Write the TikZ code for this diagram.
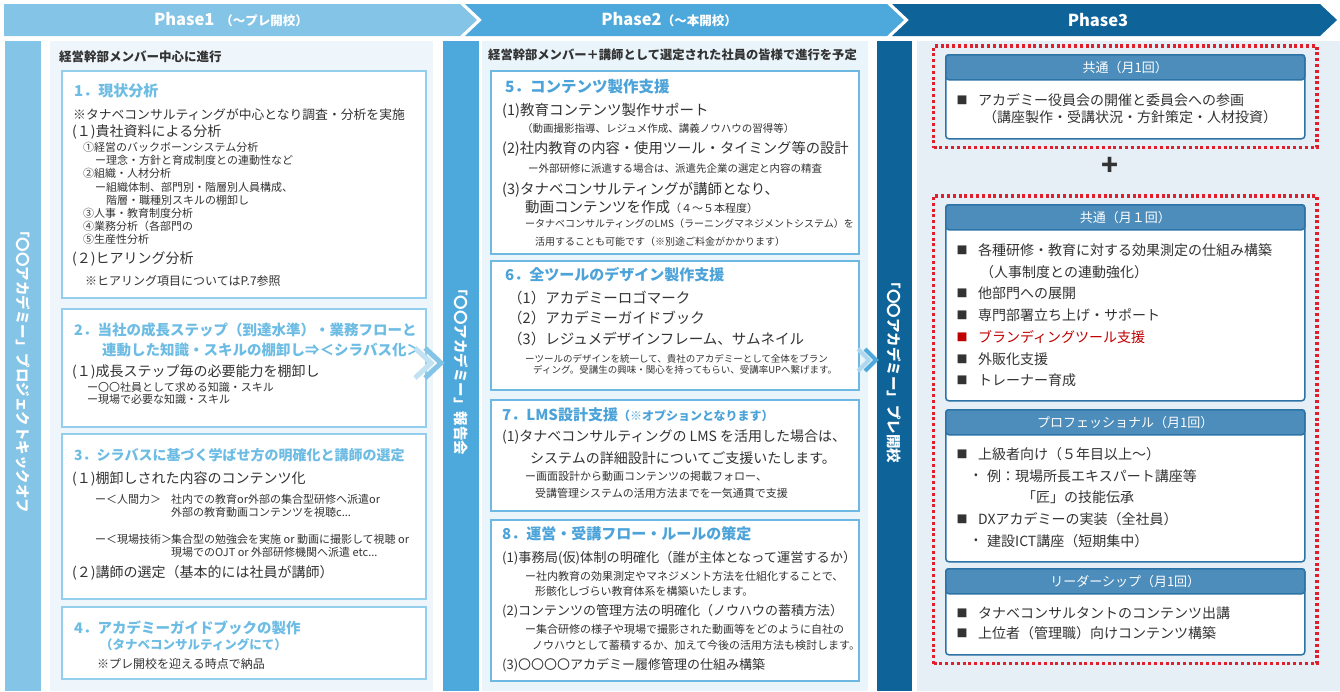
\documentclass[tikz,border=0pt]{standalone}
\usepackage{fontspec}
\setmainfont{Noto Sans CJK JP}
\usepackage{xcolor}
\usetikzlibrary{positioning,fit}
\definecolor{phaseA}{HTML}{84C4E6}
\definecolor{phaseB}{HTML}{4DA8DB}
\definecolor{phaseC}{HTML}{0E6399}
\definecolor{panelA}{HTML}{EEF6FB}
\definecolor{panelB}{HTML}{EAF4FB}
\definecolor{panelC}{HTML}{E6EEF6}
\definecolor{lineA}{HTML}{93CFEC}
\definecolor{lineB}{HTML}{6DB9E4}
\definecolor{titleA}{HTML}{6CBCE4}
\definecolor{titleB}{HTML}{4BA3D9}
\definecolor{inkgray}{HTML}{333333}
\definecolor{cardhead}{HTML}{4D8DBB}
\definecolor{cardline}{HTML}{2C73A6}
\definecolor{dotred}{HTML}{E01F2D}
\definecolor{brandred}{HTML}{C00000}

\begin{document}
\begin{tikzpicture}[
  x=1pt, y=-1pt,
  fs/.style={font=\fontsize{#1}{#1}\selectfont},
  fb/.style={font=\bfseries\fontsize{#1}{#1}\selectfont},
  tx/.style={anchor=west, inner sep=0pt, text=inkgray},
  bar/.style={anchor=north west, inner sep=0pt, minimum width=36, minimum height=650},
  panel/.style={anchor=north west, inner sep=0pt, minimum height=650},
  bartext/.style={rotate=-90, text=white, fb=14.5},
  boxA/.style={draw=lineA, line width=1.6pt, fill=white, anchor=north west, inner sep=0pt, minimum width=364},
  boxB/.style={draw=lineB, line width=1.6pt, fill=white, anchor=north west, inner sep=0pt, minimum width=368},
  ttlA/.style={tx, text=titleA, fb=15},
  ttlB/.style={tx, text=titleB, fb=15},
  card/.style={draw=cardline, line width=1.5pt, fill=white, rounded corners=3pt, anchor=north west, inner sep=0pt, minimum width=359},
  cardhd/.style={draw=cardline, line width=1.5pt, fill=cardhead, rounded corners=3pt, anchor=north west, inner sep=0pt, minimum width=359, minimum height=25, text=white, fs=13},
  reddots/.style={draw=dotred, line width=3.4pt, dash pattern=on 3pt off 2.8pt, inner xsep=11.5pt, inner ysep=8pt},
  sq/.style={anchor=center, inner sep=0pt, text=inkgray, fs=11},
  dot/.style={anchor=center, inner sep=0pt, text=inkgray, fs=11},
  chev/.style={line width=5pt, miter limit=10},
]
\useasboundingbox (0,0) rectangle (1340,691);

% phase headers
\fill[phaseA] (4,4) -- (460,4) -- (477,20) -- (460,36) -- (4,36) -- cycle;
\fill[phaseB] (465,4) -- (887,4) -- (904,20) -- (887,36) -- (465,36) -- (482,20) -- cycle;
\fill[phaseC] (892,4) -- (1320,4) -- (1337,20) -- (1320,36) -- (892,36) -- (909,20) -- cycle;
\node[text=white, fb=16.5] (ph1) at (231,20) {Phase1\hspace{6pt}{\fontsize{12.5}{12.5}\selectfont（～プレ開校）}};
\node[text=white, fb=16.5] (ph2) at (669,20) {Phase2{\fontsize{12.5}{12.5}\selectfont（～本開校）}};
\node[text=white, fb=16.5] (ph3) at (1098,20) {Phase3};

% columns
\node[bar, fill=phaseA] (barA) at (5,41) {};
\node[panel, fill=panelA, minimum width=383] (panA) at (50,41) {};
\node[bar, fill=phaseB] (barB) at (443,41) {};
\node[panel, fill=panelB, minimum width=386] (panB) at (482,41) {};
\node[bar, fill=phaseC, minimum width=35] (barC) at (877,41) {};
\node[panel, fill=panelC, minimum width=423] (panC) at (917,41) {};
\node[bartext] (barAt) at (23,368) {「〇〇アカデミー」プロジェクトキックオフ};
\node[bartext] (barBt) at (461,368) {「〇〇アカデミー」報告会};
\node[bartext] (barCt) at (894.5,369) {「〇〇アカデミー」プレ開校};

% Phase1
\node[tx, fb=12.5] (leadA) at (59,57) {経営幹部メンバー中心に進行};
\node[boxA, minimum height=227] (bx1) at (61,70) {};
\node[ttlA] (t1) at (74,91) {1．現状分析};
\node[tx, fs=12.8] (a1) at (73,115) {※タナベコンサルティングが中心となり調査・分析を実施};
\node[tx, fs=14] (a2) at (72,132) {(１)貴社資料による分析};
\node[tx, fs=11] (a3) at (83,147) {①経営のバックボーンシステム分析};
\node[tx, fs=11] (a4) at (95,160) {ー理念・方針と育成制度との連動性など};
\node[tx, fs=11] (a5) at (83,173) {②組織・人材分析};
\node[tx, fs=11] (a6) at (95,187) {ー組織体制、部門別・階層別人員構成、};
\node[tx, fs=11] (a7) at (106,200) {階層・職種別スキルの棚卸し};
\node[tx, fs=11] (a8) at (83,213) {③人事・教育制度分析};
\node[tx, fs=11] (a9) at (83,226) {④業務分析（各部門の};
\node[tx, fs=11] (a10) at (83,239) {⑤生産性分析};
\node[tx, fs=14] (a11) at (72,259) {(２)ヒアリング分析};
\node[tx, fs=12] (a12) at (85,281) {※ヒアリング項目についてはP.7参照};

\node[boxA, minimum height=118] (bx2) at (61,308) {};
\node[ttlA, fb=14.5] (t2) at (74,330) {2．当社の成長ステップ（到達水準）・業務フローと};
\node[ttlA, fb=14.5] (t2b) at (102,350) {連動した知識・スキルの棚卸し⇒＜シラバス化＞};
\node[tx, fs=14] (b1) at (72,372) {(１)成長ステップ毎の必要能力を棚卸し};
\node[tx, fs=11] (b2) at (87,387) {ー〇〇社員として求める知識・スキル};
\node[tx, fs=11] (b3) at (87,399) {ー現場で必要な知識・スキル};

\node[boxA, minimum height=165] (bx3) at (61,433) {};
\node[ttlA, fb=14] (t3) at (74,455) {3．シラバスに基づく学ばせ方の明確化と講師の選定};
\node[tx, fs=14] (c1) at (72,479) {(１)棚卸しされた内容のコンテンツ化};
\node[tx, fs=11] (c2) at (95,499) {ー＜人間力＞};
\node[tx, fs=11] (c3) at (171,499) {社内での教育or外部の集合型研修へ派遣or};
\node[tx, fs=11] (c4) at (171,512) {外部の教育動画コンテンツを視聴c...};
\node[tx, fs=11] (c5) at (95,539) {ー＜現場技術＞};
\node[tx, fs=11] (c6) at (171,539) {集合型の勉強会を実施 or 動画に撮影して視聴 or};
\node[tx, fs=11] (c7) at (171,552) {現場でのOJT or 外部研修機関へ派遣 etc...};
\node[tx, fs=14] (c8) at (72,573) {(２)講師の選定（基本的には社員が講師）};

\node[boxA, minimum height=72] (bx4) at (61,606) {};
\node[ttlA, fb=14.5] (t4) at (74,628) {4．アカデミーガイドブックの製作};
\node[ttlA, fb=12.5] (t4b) at (100,645) {（タナベコンサルティングにて）};
\node[tx, fs=12] (d1) at (97,664) {※プレ開校を迎える時点で納品};

% Phase2
\node[tx, fb=12.3] (leadB) at (488,55) {経営幹部メンバー＋講師として選定された社員の皆様で進行を予定};
\node[boxB, minimum height=183] (bx5) at (490,70) {};
\node[ttlB, fb=15.5] (t5) at (505,87) {5．コンテンツ製作支援};
\node[tx, fs=14.5] (e1) at (502,111) {(1)教育コンテンツ製作サポート};
\node[tx, fs=10.5] (e2) at (522,129) {（動画撮影指導、レジュメ作成、講義ノウハウの習得等）};
\node[tx, fs=14.3] (e3) at (502,149) {(2)社内教育の内容・使用ツール・タイミング等の設計};
\node[tx, fs=10.5] (e4) at (528,169) {ー外部研修に派遣する場合は、派遣先企業の選定と内容の精査};
\node[tx, fs=14.5] (e5) at (502,190) {(3)タナベコンサルティングが講師となり、};
\node[tx, fs=14.5] (e6) at (525,207) {動画コンテンツを作成{\fontsize{11}{11}\selectfont（４～５本程度）}};
\node[tx, fs=10] (e7) at (525,224) {ータナベコンサルティングのLMS（ラーニングマネジメントシステム）を};
\node[tx, fs=10] (e8) at (535,242) {活用することも可能です（※別途ご料金がかかります）};

\node[boxB, minimum height=129] (bx6) at (490,260) {};
\node[ttlB] (t6) at (505,275) {6．全ツールのデザイン製作支援};
\node[tx, fs=14.5] (f1) at (508,298) {（1）アカデミーロゴマーク};
\node[tx, fs=14.5] (f2) at (508,318) {（2）アカデミーガイドブック};
\node[tx, fs=14.5] (f3) at (508,339) {（3）レジュメデザインフレーム、サムネイル};
\node[tx, fs=9.5] (f4) at (525,359) {ーツールのデザインを統一して、貴社のアカデミーとして全体をブラン};
\node[tx, fs=9.5] (f5) at (533,370) {ディング。受講生の興味・関心を持ってもらい、受講率UPへ繋げます。};

\node[boxB, minimum height=111] (bx7) at (490,399) {};
\node[ttlB] (t7) at (502,415) {7．LMS設計支援{\fontsize{12}{12}\selectfont（※オプションとなります）}};
\node[tx, fs=14] (g1) at (502,437) {(1)タナベコンサルティングの LMS を活用した場合は、};
\node[tx, fs=14] (g2) at (530,458) {システムの詳細設計についてご支援いたします。};
\node[tx, fs=11] (g3) at (525,476) {ー画面設計から動画コンテンツの掲載フォロー、};
\node[tx, fs=11] (g4) at (535,493) {受講管理システムの活用方法までを一気通貫で支援};

\node[boxB, minimum height=161] (bx8) at (490,519) {};
\node[ttlB] (t8) at (502,534) {8．運営・受講フロー・ルールの策定};
\node[tx, fs=13.2] (h1) at (502,558) {(1)事務局(仮)体制の明確化（誰が主体となって運営するか）};
\node[tx, fs=11] (h2) at (525,576) {ー社内教育の効果測定やマネジメント方法を仕組化することで、};
\node[tx, fs=11] (h3) at (535,591) {形骸化しづらい教育体系を構築いたします。};
\node[tx, fs=13] (h4) at (502,611) {(2)コンテンツの管理方法の明確化（ノウハウの蓄積方法）};
\node[tx, fs=11] (h5) at (525,629) {ー集合研修の様子や現場で撮影された動画等をどのように自社の};
\node[tx, fs=11] (h6) at (532,645) {ノウハウとして蓄積するか、加えて今後の活用方法も検討します。};
\node[tx, fs=13] (h7) at (502,665) {(3)〇〇〇〇アカデミー履修管理の仕組み構築};

% chevrons between columns
\draw[chev, phaseA!50] (415,348) -- (431,363) -- (415,378);
\draw[chev, phaseA] (425,348) -- (441,363) -- (425,378);
\draw[chev, line width=4pt, phaseB!45] (858,349) -- (869,360) -- (858,371);
\draw[chev, line width=4pt, phaseB] (865,349) -- (876,360) -- (865,371);

% Phase3
\node[card, minimum height=84] (cA) at (945,54) {};
\node[cardhd] (cAh) at (945,54) {共通（月1回）};
\node[sq] (kA1) at (962,100) {■};
\node[tx, fs=14] (kA1t) at (978,100) {アカデミー役員会の開催と委員会への参画};
\node[tx, fs=14] (kA2t) at (983,117) {（講座製作・受講状況・方針策定・人材投資）};
\node[reddots, fit=(cA)] (red1) {};

\node[text=inkgray, fb=28] (plus) at (1110,166) {+};

\node[card, minimum height=196] (cB) at (945,204) {};
\node[cardhd] (cBh) at (945,204) {共通（月１回）};
\node[sq] (kB1) at (962,250) {■};
\node[tx, fs=14] (kB1t) at (978,250) {各種研修・教育に対する効果測定の仕組み構築};
\node[tx, fs=14] (kB2t) at (980,272) {（人事制度との連動強化）};
\node[sq] (kB3) at (962,293) {■};
\node[tx, fs=14] (kB3t) at (978,293) {他部門への展開};
\node[sq] (kB4) at (962,315) {■};
\node[tx, fs=14] (kB4t) at (978,315) {専門部署立ち上げ・サポート};
\node[sq, text=brandred] (kB5) at (962,337) {■};
\node[tx, fs=14, text=brandred] (kB5t) at (978,337) {ブランディングツール支援};
\node[sq] (kB6) at (962,359) {■};
\node[tx, fs=14] (kB6t) at (978,359) {外販化支援};
\node[sq] (kB7) at (962,380) {■};
\node[tx, fs=14] (kB7t) at (978,380) {トレーナー育成};

\node[card, minimum height=152] (cC) at (945,409) {};
\node[cardhd] (cCh) at (945,409) {プロフェッショナル（月1回）};
\node[sq] (kC1) at (962,454) {■};
\node[tx, fs=14] (kC1t) at (978,454) {上級者向け（５年目以上～）};
\node[dot] (kC2) at (976,476) {•};
\node[tx, fs=14] (kC2t) at (987,476) {例：現場所長エキスパート講座等};
\node[tx, fs=14] (kC3t) at (1022,497) {「匠」の技能伝承};
\node[sq] (kC4) at (962,519) {■};
\node[tx, fs=14] (kC4t) at (978,519) {DXアカデミーの実装（全社員）};
\node[dot] (kC5) at (976,541) {•};
\node[tx, fs=14] (kC5t) at (987,541) {建設ICT講座（短期集中）};

\node[card, minimum height=86] (cD) at (945,568) {};
\node[cardhd] (cDh) at (945,568) {リーダーシップ（月1回）};
\node[sq] (kD1) at (962,613) {■};
\node[tx, fs=14] (kD1t) at (978,613) {タナベコンサルタントのコンテンツ出講};
\node[sq] (kD2) at (962,633) {■};
\node[tx, fs=14] (kD2t) at (978,633) {上位者（管理職）向けコンテンツ構築};
\node[reddots, fit=(cB)(cD)] (red2) {};
\end{tikzpicture}
\end{document}
